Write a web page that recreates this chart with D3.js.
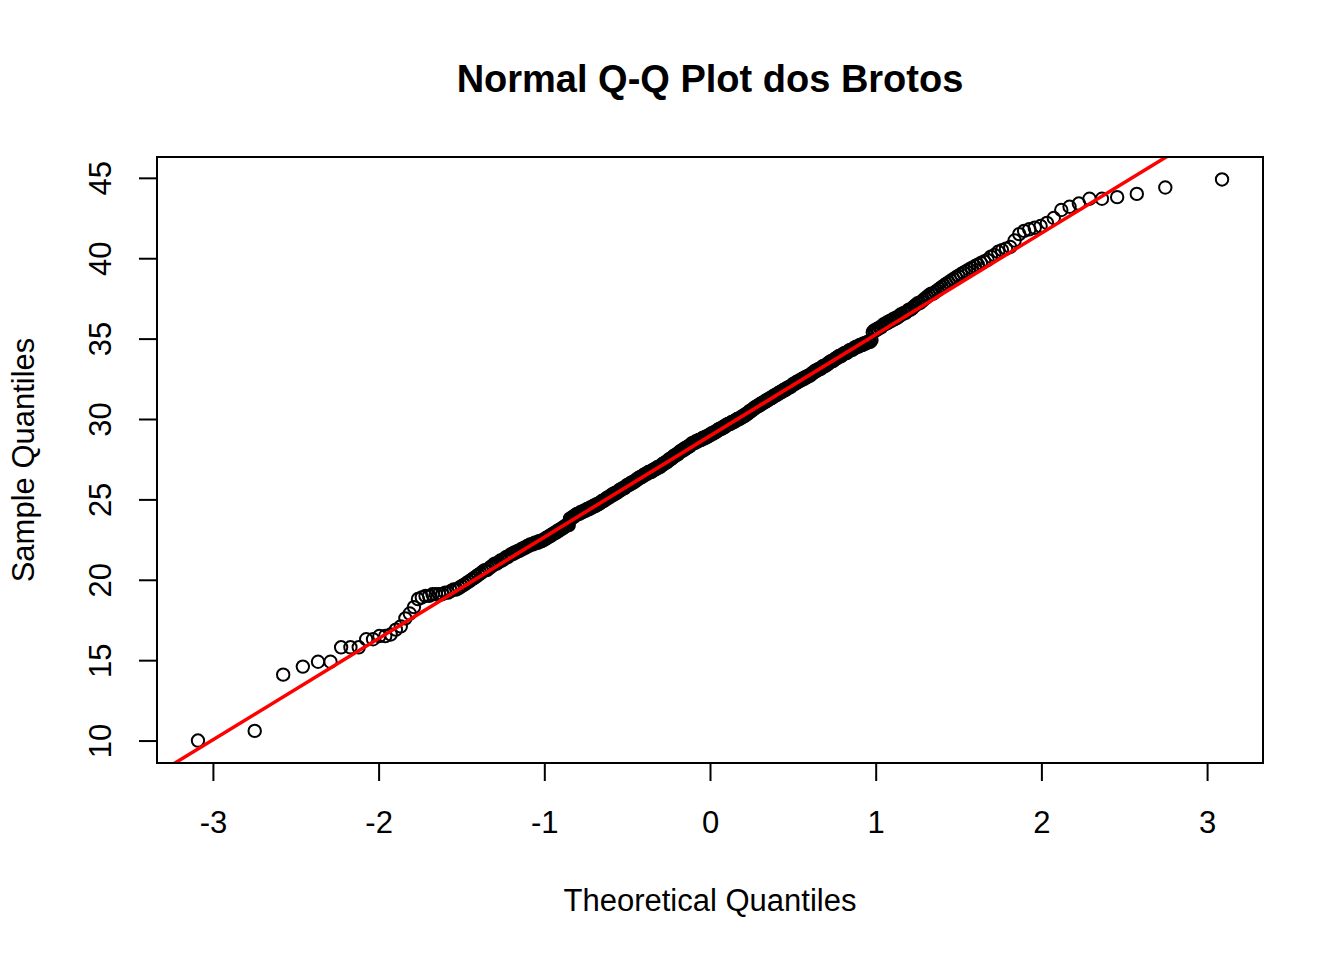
<!DOCTYPE html>
<html lang="pt">
<head>
<meta charset="utf-8">
<title>Normal Q-Q Plot dos Brotos</title>
<style>
  body { margin: 0; background: #fff; }
  svg { display: block; font-family: "Liberation Sans", Arial, sans-serif; }
</style>
<script src="https://d3js.org/d3.v7.min.js"></script>
</head>
<body>
<script>
// sample values (500 sprouts) in rank order
const brotos = [
  10.0, 10.6, 14.1, 14.6, 14.9, 14.9, 15.8, 15.8, 15.8, 16.3,
  16.3, 16.5, 16.5, 16.6, 16.9, 17.1, 17.6, 17.9, 18.3, 18.8,
  18.9, 19.0, 19.0, 19.1, 19.1, 19.1, 19.1, 19.2, 19.2, 19.3,
  19.4, 19.4, 19.5, 19.6, 19.7, 19.8, 19.9, 20.0, 20.1, 20.2,
  20.3, 20.4, 20.5, 20.6, 20.6, 20.7, 20.8, 20.9, 21.0, 21.0,
  21.1, 21.2, 21.2, 21.3, 21.4, 21.4, 21.5, 21.6, 21.6, 21.7,
  21.7, 21.8, 21.8, 21.9, 21.9, 22.0, 22.0, 22.1, 22.1, 22.2,
  22.2, 22.2, 22.3, 22.3, 22.3, 22.4, 22.4, 22.4, 22.5, 22.5,
  22.6, 22.6, 22.7, 22.7, 22.8, 22.8, 22.9, 22.9, 23.0, 23.0,
  23.1, 23.1, 23.2, 23.2, 23.3, 23.3, 23.4, 23.4, 23.4, 23.8,
  23.8, 23.9, 23.9, 24.0, 24.0, 24.1, 24.1, 24.1, 24.2, 24.2,
  24.2, 24.3, 24.3, 24.3, 24.4, 24.4, 24.4, 24.5, 24.5, 24.5,
  24.6, 24.6, 24.6, 24.7, 24.7, 24.7, 24.8, 24.8, 24.9, 24.9,
  24.9, 25.0, 25.0, 25.1, 25.1, 25.1, 25.2, 25.2, 25.3, 25.3,
  25.3, 25.4, 25.4, 25.4, 25.5, 25.5, 25.6, 25.6, 25.6, 25.7,
  25.7, 25.7, 25.8, 25.8, 25.9, 25.9, 25.9, 26.0, 26.0, 26.0,
  26.1, 26.1, 26.1, 26.2, 26.2, 26.3, 26.3, 26.3, 26.4, 26.4,
  26.4, 26.5, 26.5, 26.5, 26.6, 26.6, 26.6, 26.7, 26.7, 26.7,
  26.7, 26.8, 26.8, 26.8, 26.9, 26.9, 26.9, 27.0, 27.0, 27.0,
  27.0, 27.1, 27.1, 27.2, 27.2, 27.2, 27.3, 27.3, 27.3, 27.4,
  27.4, 27.5, 27.5, 27.5, 27.6, 27.6, 27.7, 27.7, 27.7, 27.8,
  27.8, 27.8, 27.9, 27.9, 28.0, 28.0, 28.0, 28.1, 28.1, 28.1,
  28.2, 28.2, 28.2, 28.3, 28.3, 28.3, 28.4, 28.4, 28.5, 28.5,
  28.5, 28.5, 28.6, 28.6, 28.6, 28.6, 28.7, 28.7, 28.7, 28.7,
  28.8, 28.8, 28.8, 28.8, 28.9, 28.9, 28.9, 28.9, 29.0, 29.0,
  29.0, 29.1, 29.1, 29.1, 29.1, 29.2, 29.2, 29.2, 29.3, 29.3,
  29.3, 29.4, 29.4, 29.4, 29.4, 29.5, 29.5, 29.5, 29.6, 29.6,
  29.6, 29.7, 29.7, 29.7, 29.7, 29.8, 29.8, 29.8, 29.8, 29.9,
  29.9, 29.9, 30.0, 30.0, 30.0, 30.0, 30.1, 30.1, 30.1, 30.2,
  30.2, 30.2, 30.3, 30.3, 30.3, 30.4, 30.4, 30.5, 30.5, 30.5,
  30.6, 30.6, 30.7, 30.7, 30.7, 30.8, 30.8, 30.8, 30.9, 30.9,
  30.9, 31.0, 31.0, 31.0, 31.1, 31.1, 31.1, 31.2, 31.2, 31.2,
  31.3, 31.3, 31.3, 31.4, 31.4, 31.4, 31.5, 31.5, 31.5, 31.6,
  31.6, 31.6, 31.7, 31.7, 31.7, 31.8, 31.8, 31.8, 31.9, 31.9,
  31.9, 32.0, 32.0, 32.0, 32.1, 32.1, 32.2, 32.2, 32.2, 32.3,
  32.3, 32.3, 32.4, 32.4, 32.4, 32.5, 32.5, 32.5, 32.6, 32.6,
  32.6, 32.7, 32.7, 32.7, 32.8, 32.8, 32.9, 32.9, 33.0, 33.0,
  33.0, 33.1, 33.1, 33.1, 33.2, 33.2, 33.3, 33.3, 33.3, 33.4,
  33.4, 33.5, 33.5, 33.6, 33.6, 33.6, 33.7, 33.7, 33.8, 33.8,
  33.9, 33.9, 33.9, 34.0, 34.0, 34.1, 34.1, 34.1, 34.2, 34.2,
  34.3, 34.3, 34.3, 34.4, 34.4, 34.5, 34.5, 34.5, 34.6, 34.6,
  34.6, 34.7, 34.7, 34.7, 34.8, 34.8, 34.8, 34.9, 35.4, 35.5,
  35.5, 35.6, 35.6, 35.7, 35.7, 35.8, 35.9, 35.9, 36.0, 36.0,
  36.1, 36.1, 36.2, 36.2, 36.3, 36.3, 36.4, 36.5, 36.5, 36.6,
  36.6, 36.7, 36.8, 36.8, 36.9, 37.0, 37.1, 37.2, 37.2, 37.3,
  37.4, 37.5, 37.6, 37.7, 37.8, 37.8, 37.9, 38.0, 38.1, 38.2,
  38.3, 38.4, 38.5, 38.6, 38.7, 38.8, 38.9, 39.0, 39.1, 39.2,
  39.3, 39.4, 39.5, 39.6, 39.7, 39.8, 39.9, 40.1, 40.2, 40.4,
  40.5, 40.6, 40.7, 41.1, 41.5, 41.7, 41.8, 41.9, 42.0, 42.2,
  42.5, 43.0, 43.2, 43.4, 43.7, 43.7, 43.8, 44.0, 44.4, 44.9
];

const xTicks = [-3, -2, -1, 0, 1, 2, 3];
const yTicks = [10, 15, 20, 25, 30, 35, 40, 45];

const title = "Normal Q-Q Plot dos Brotos";
const xLabel = "Theoretical Quantiles";
const yLabel = "Sample Quantiles";

const width = 1344, height = 960;
const box = { left: 157, right: 1263, top: 157, bottom: 763 };

// inverse of the standard normal cdf (Acklam's approximation)
function qnorm(p) {
    const a = [-3.969683028665376e+01, 2.209460984245205e+02, -2.759285104469687e+02,
                1.383577518672690e+02, -3.066479806614716e+01, 2.506628277459239e+00];
    const b = [-5.447609879822406e+01, 1.615858368580409e+02, -1.556989798598866e+02,
                6.680131188771972e+01, -1.328068155288572e+01];
    const c = [-7.784894002430293e-03, -3.223964580411365e-01, -2.400758277161838e+00,
               -2.549732539343734e+00, 4.374664141464968e+00, 2.938163982698783e+00];
    const d = [7.784695709041462e-03, 3.224671290700398e-01, 2.445134137142996e+00,
               3.754408661907416e+00];
    const plow = 0.02425, phigh = 1 - plow;
    let q, r;
    if (p < plow) {
        q = Math.sqrt(-2 * Math.log(p));
        return (((((c[0]*q+c[1])*q+c[2])*q+c[3])*q+c[4])*q+c[5]) /
               ((((d[0]*q+d[1])*q+d[2])*q+d[3])*q+1);
    }
    if (p > phigh) {
        q = Math.sqrt(-2 * Math.log(1 - p));
        return -(((((c[0]*q+c[1])*q+c[2])*q+c[3])*q+c[4])*q+c[5]) /
                ((((d[0]*q+d[1])*q+d[2])*q+d[3])*q+1);
    }
    q = p - 0.5;
    r = q * q;
    return (((((a[0]*r+a[1])*r+a[2])*r+a[3])*r+a[4])*r+a[5])*q /
           (((((b[0]*r+b[1])*r+b[2])*r+b[3])*r+b[4])*r+1);
}

// qqnorm: ppoints(n) = (i - 0.5) / n
const n = brotos.length;
const sample = brotos.slice().sort(d3.ascending);
const points = sample.map((v, i) => ({ q: qnorm((i + 0.5) / n), v: v }));

// qqline through the quartiles
const q1 = d3.quantile(sample, 0.25), q3 = d3.quantile(sample, 0.75);
const slope = (q3 - q1) / (qnorm(0.75) - qnorm(0.25));
const intercept = q1 - slope * qnorm(0.25);

// R pads the data range by 4% on each side
const pad = ext => { const e = (ext[1] - ext[0]) * 0.04; return [ext[0] - e, ext[1] + e]; };

const x = d3.scaleLinear()
    .domain(pad(d3.extent(points, d => d.q)))
    .range([box.left, box.right]);

const y = d3.scaleLinear()
    .domain(pad(d3.extent(points, d => d.v)))
    .range([box.bottom, box.top]);

const svg = d3.select("body")
    .append("svg")
    .attr("width", width)
    .attr("height", height);

svg.append("defs").append("clipPath")
    .attr("id", "plotArea")
    .append("rect")
    .attr("x", box.left)
    .attr("y", box.top)
    .attr("width", box.right - box.left)
    .attr("height", box.bottom - box.top);

// points
svg.append("g")
    .selectAll("circle")
    .data(points)
    .join("circle")
    .attr("cx", d => x(d.q))
    .attr("cy", d => y(d.v))
    .attr("r", 6.2)
    .attr("fill", "none")
    .attr("stroke", "#000")
    .attr("stroke-width", 2);

// reference line
const xd = x.domain();
svg.append("line")
    .attr("clip-path", "url(#plotArea)")
    .attr("x1", x(xd[0]))
    .attr("y1", y(intercept + slope * xd[0]))
    .attr("x2", x(xd[1]))
    .attr("y2", y(intercept + slope * xd[1]))
    .attr("stroke", "#ff0000")
    .attr("stroke-width", 3.5);

// frame
svg.append("rect")
    .attr("x", box.left)
    .attr("y", box.top)
    .attr("width", box.right - box.left)
    .attr("height", box.bottom - box.top)
    .attr("fill", "none")
    .attr("stroke", "#000")
    .attr("stroke-width", 2);

// x axis
svg.append("g")
    .attr("transform", `translate(0,${box.bottom})`)
    .call(d3.axisBottom(x).tickValues(xTicks).tickSize(18).tickPadding(30).tickFormat(d => String(d)))
    .call(g => g.select(".domain").remove())
    .call(g => g.selectAll("line").attr("stroke", "#000").attr("stroke-width", 2))
    .call(g => g.selectAll("text").attr("fill", "#000"))
    .style("font-family", "'Liberation Sans', Arial, sans-serif")
    .style("font-size", "31px");

// y axis, labels parallel to the axis as R does
svg.append("g")
    .attr("transform", `translate(${box.left},0)`)
    .call(d3.axisLeft(y).tickValues(yTicks).tickSize(18).tickFormat(d => String(d)))
    .call(g => g.select(".domain").remove())
    .call(g => g.selectAll("line").attr("stroke", "#000").attr("stroke-width", 2))
    .call(g => g.selectAll("text")
        .attr("fill", "#000")
        .attr("x", null)
        .attr("dy", null)
        .attr("text-anchor", "middle")
        .attr("transform", `translate(${111 - box.left},0) rotate(-90)`))
    .style("font-family", "'Liberation Sans', Arial, sans-serif")
    .style("font-size", "31px");

// title and axis titles
svg.append("text")
    .attr("x", (box.left + box.right) / 2)
    .attr("y", 92)
    .attr("text-anchor", "middle")
    .style("font-size", "38px")
    .style("font-weight", "bold")
    .text(title);

svg.append("text")
    .attr("x", (box.left + box.right) / 2)
    .attr("y", 911)
    .attr("text-anchor", "middle")
    .style("font-size", "31px")
    .text(xLabel);

svg.append("text")
    .attr("transform", `translate(34,${(box.top + box.bottom) / 2}) rotate(-90)`)
    .attr("text-anchor", "middle")
    .style("font-size", "31px")
    .text(yLabel);
</script>
</body>
</html>
